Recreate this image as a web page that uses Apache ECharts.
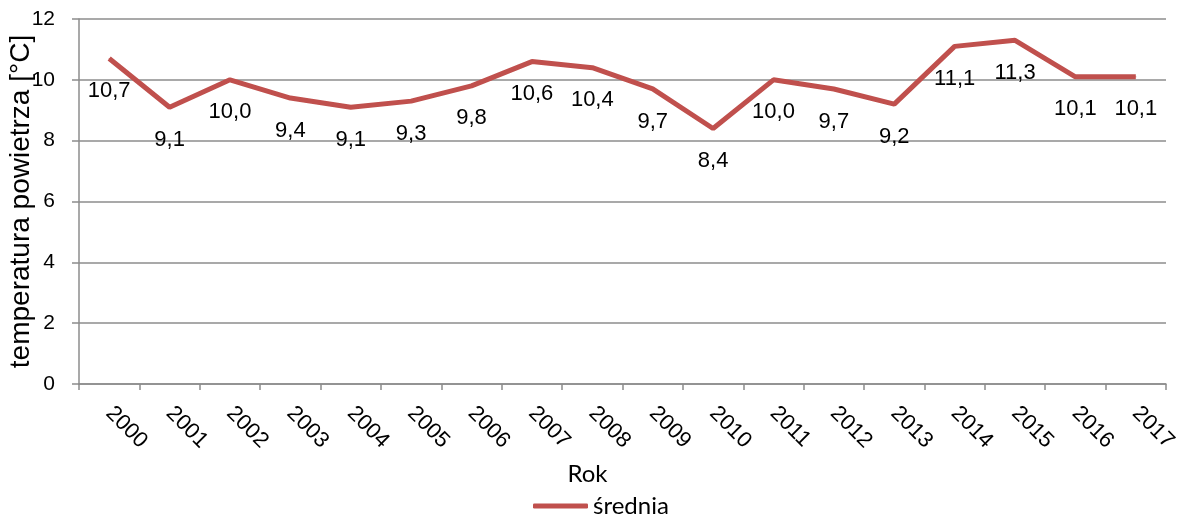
<!DOCTYPE html>
<html>
<head>
<meta charset="utf-8">
<script src="https://cdn.jsdelivr.net/npm/echarts@6/dist/echarts.min.js"></script>
<style>html,body{margin:0;padding:0;background:#fff}#c{width:1184px;height:517px}</style>
</head>
<body>
<div id="c"></div>
<script>
const years = ['2000','2001','2002','2003','2004','2005','2006','2007','2008','2009','2010','2011','2012','2013','2014','2015','2016','2017'];
const srednia = [10.7, 9.1, 10.0, 9.4, 9.1, 9.3, 9.8, 10.6, 10.4, 9.7, 8.4, 10.0, 9.7, 9.2, 11.1, 11.3, 10.1, 10.1];
const seriesName = 'średnia';
const xTitle = 'Rok';
const yTitle = 'temperatura powietrza [°C]';

const font = 'Liberation Sans, Arial, sans-serif';
const gridColor = '#8c8c8c';
const chart = echarts.init(document.getElementById('c'));
chart.setOption({
  animation: false,
  grid: {left: 79, right: 18, top: 19, bottom: 133, containLabel: false, outerBoundsMode: 'none'},
  xAxis: {
    type: 'category', data: years, boundaryGap: true,
    name: xTitle, nameLocation: 'middle', nameGap: 78, nameMoveOverlap: false,
    nameTextStyle: {fontFamily: 'Lato, sans-serif', fontSize: 24, color: '#000', padding: [0, 70, 0, 0]},
    axisLine: {lineStyle: {color: gridColor, width: 1.5}},
    axisTick: {show: true, length: 6, alignWithLabel: false, lineStyle: {color: gridColor, width: 1.5}},
    axisLabel: {rotate: -45, margin: 26, fontFamily: font, fontSize: 22, color: '#000', interval: 0}
  },
  yAxis: {
    type: 'value', min: 0, max: 12, interval: 2,
    name: yTitle, nameLocation: 'middle', nameRotate: 90, nameGap: 44, nameMoveOverlap: false,
    nameTextStyle: {fontFamily: font, fontSize: 28, color: '#000'},
    axisLine: {show: true, lineStyle: {color: gridColor, width: 1.5}},
    axisTick: {show: true, length: 7, lineStyle: {color: gridColor, width: 1.5}},
    splitLine: {lineStyle: {color: gridColor, width: 1.5}},
    axisLabel: {margin: 24, fontFamily: font, fontSize: 21, color: '#000'}
  },
  legend: {
    left: 528, top: 489, itemWidth: 55, itemHeight: 5, itemGap: 4, icon: 'roundRect',
    textStyle: {fontFamily: 'Lato, sans-serif', fontSize: 24, color: '#000'},
    data: [seriesName]
  },
  series: [{
    name: seriesName, type: 'line', data: srednia,
    symbol: 'circle', symbolSize: 1, showSymbol: true,
    lineStyle: {color: '#C0504D', width: 5},
    itemStyle: {color: '#C0504D'},
    label: {
      show: true, position: 'bottom', distance: 21,
      fontFamily: font, fontSize: 22, color: '#000',
      formatter: p => p.value.toFixed(1).replace('.', ',')
    }
  }]
});
</script>
</body>
</html>
